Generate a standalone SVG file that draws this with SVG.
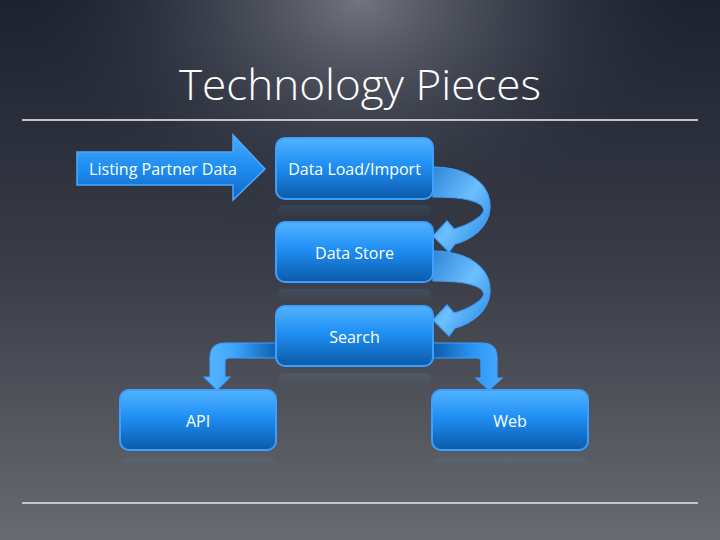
<svg xmlns="http://www.w3.org/2000/svg" width="720" height="540" viewBox="0 0 720 540">
<defs>
<linearGradient id="bg" x1="0" y1="0" x2="0" y2="1">
<stop offset="0" stop-color="#1d2231"/>
<stop offset="0.5" stop-color="#3a3d47"/>
<stop offset="1" stop-color="#686a70"/>
</linearGradient>
<radialGradient id="glow" cx="360" cy="0" r="330" gradientUnits="userSpaceOnUse" gradientTransform="translate(360 0) scale(1 0.75) translate(-360 0)">
<stop offset="0" stop-color="#72757e" stop-opacity="1"/>
<stop offset="0.5" stop-color="#4a4e59" stop-opacity="0.6"/>
<stop offset="1" stop-color="#2a2e3b" stop-opacity="0"/>
</radialGradient>
<linearGradient id="nodeFill" x1="0" y1="0" x2="0" y2="1">
<stop offset="0" stop-color="#52b2ff"/>
<stop offset="0.45" stop-color="#1f8ff5"/>
<stop offset="1" stop-color="#0c5aa8"/>
</linearGradient>
<linearGradient id="arrFill" x1="0" y1="0" x2="0" y2="1">
<stop offset="0" stop-color="#48aaff"/>
<stop offset="0.5" stop-color="#1e8df2"/>
<stop offset="1" stop-color="#1168c4"/>
</linearGradient>
<linearGradient id="curveFill" x1="0" y1="0" x2="1" y2="1">
<stop offset="0" stop-color="#2f86d6"/>
<stop offset="0.5" stop-color="#6cc0ff"/>
<stop offset="1" stop-color="#1f82e0"/>
</linearGradient>
<linearGradient id="leftBranch" x1="277" y1="0" x2="205" y2="0" gradientUnits="userSpaceOnUse">
<stop offset="0" stop-color="#1060b0"/>
<stop offset="0.6" stop-color="#3ea4ff"/>
<stop offset="1" stop-color="#5ab8ff"/>
</linearGradient>
<linearGradient id="rightBranch" x1="433" y1="0" x2="502" y2="0" gradientUnits="userSpaceOnUse">
<stop offset="0" stop-color="#0f5ca8"/>
<stop offset="0.6" stop-color="#2c96f8"/>
<stop offset="1" stop-color="#47aaff"/>
</linearGradient>
<linearGradient id="refl" x1="0" y1="0" x2="0" y2="1">
<stop offset="0" stop-color="#5aa8e8" stop-opacity="0.12"/>
<stop offset="1" stop-color="#5aa8e8" stop-opacity="0"/>
</linearGradient>
<style>
.node rect.box{fill:url(#nodeFill);stroke:#3d9fff;stroke-width:2}
.node rect.refl{fill:url(#refl)}
.lbl{font-family:"Open Sans",Lato,"Liberation Sans",sans-serif;font-size:16px;fill:#ffffff;text-anchor:middle}
.rule{stroke:#c4c4c6;stroke-width:2}
.curve{fill:url(#curveFill);stroke:#3d9fff;stroke-width:1.2}
</style>
</defs>
<rect width="720" height="540" fill="url(#bg)"/>
<rect width="720" height="540" fill="url(#glow)"/>
<text x="360" y="100" font-family="'Open Sans',Lato,'Liberation Sans',sans-serif" font-weight="300" font-size="43" fill="#ffffff" text-anchor="middle" textLength="362" lengthAdjust="spacingAndGlyphs">Technology Pieces</text>
<line class="rule" x1="22" y1="120" x2="698" y2="120"/>
<line class="rule" x1="22" y1="503" x2="698" y2="503"/>

<g id="connectors">
<path class="curve" d="M433,167 C470,167 491,185 490,208 C489,228 470,240 455,244 L449,252 L433,236 L447,221 L454,229 C470,225 483,216 484,210 C482,200 462,197 433,197 Z"/>
<path class="curve" transform="translate(0 84)" d="M433,167 C470,167 491,185 490,208 C489,228 470,240 455,244 L449,252 L433,236 L447,221 L454,229 C470,225 483,216 484,210 C482,200 462,197 433,197 Z"/>
<path fill="url(#leftBranch)" stroke="#3d9fff" stroke-width="1.2" d="M277,343 L225,343 Q210,343 210,358 L210,377 L204,377 L217,390 L230,377 L225,377 L225,362 Q225,358 229,358 L277,358 Z"/>
<path fill="url(#rightBranch)" stroke="#3d9fff" stroke-width="1.2" d="M433,343 L482,343 Q497,343 497,358 L497,378 L502,378 L489,390 L476,378 L481,378 L481,362 Q481,358 477,358 L433,358 Z"/>
</g>

<g id="listing-partner-data" class="node">
<path d="M77,152 L233,152 L233,135 L265,169 L233,200 L233,185 L77,185 Z" fill="url(#arrFill)" stroke="#4aa9ff" stroke-width="1.5"/>
<text class="lbl" x="163" y="175">Listing Partner Data</text>
</g>

<g id="data-load-import" class="node">
<rect class="refl" x="278" y="205" width="153" height="12" rx="6"/>
<rect class="box" x="276" y="138" width="157" height="61" rx="9"/>
<text class="lbl" x="354.5" y="175">Data Load/Import</text>
</g>

<g id="data-store" class="node">
<rect class="refl" x="278" y="289" width="153" height="12" rx="6"/>
<rect class="box" x="276" y="222" width="157" height="60" rx="9"/>
<text class="lbl" x="354.5" y="259">Data Store</text>
</g>

<g id="search" class="node">
<rect class="refl" x="278" y="373" width="153" height="12" rx="6"/>
<rect class="box" x="276" y="306" width="157" height="60" rx="9"/>
<text class="lbl" x="354.5" y="343">Search</text>
</g>

<g id="api" class="node">
<rect class="refl" x="122" y="457" width="152" height="12" rx="6"/>
<rect class="box" x="120" y="390" width="156" height="60" rx="9"/>
<text class="lbl" x="198" y="427">API</text>
</g>

<g id="web" class="node">
<rect class="refl" x="434" y="457" width="152" height="12" rx="6"/>
<rect class="box" x="432" y="390" width="156" height="60" rx="9"/>
<text class="lbl" x="510" y="427">Web</text>
</g>
</svg>
